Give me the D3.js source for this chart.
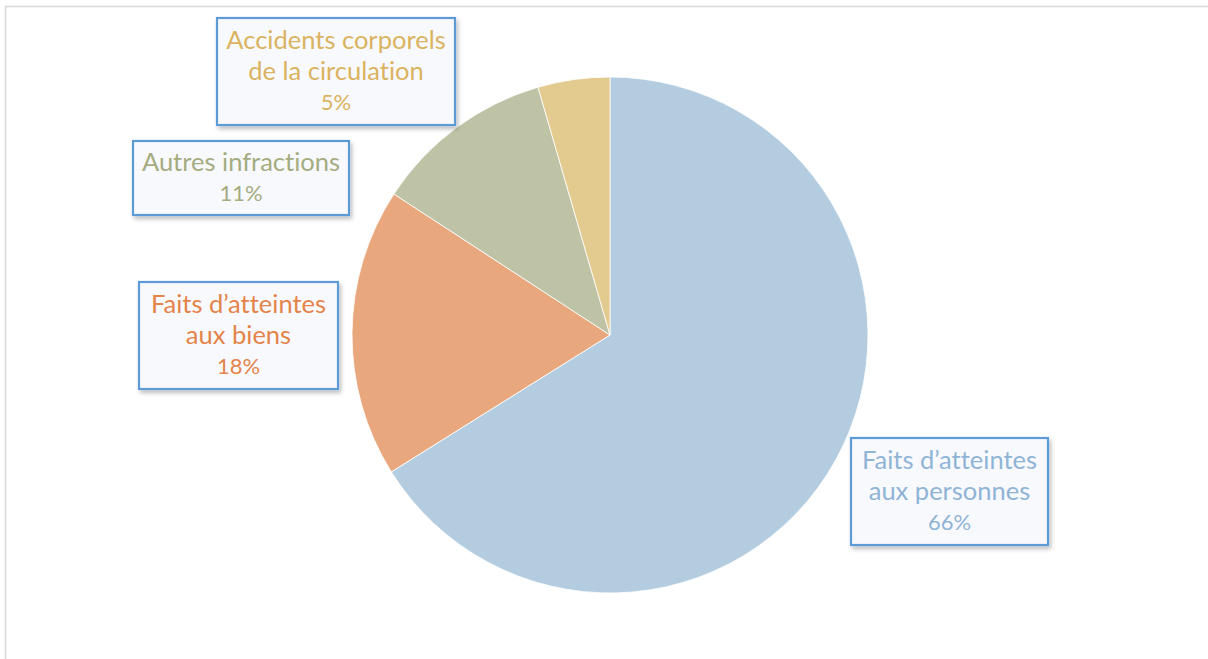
<html>
<head>
<meta charset="utf8">
<script src="https://cdn.jsdelivr.net/npm/d3@7"></script>
<style>
body { margin: 0; background: #fff; }
text { font-variant-ligatures: none; }
</style>
</head>
<body>
<div id="canvas"></div>
<script>
// données du graphique
const categories = ["Faits d’atteintes aux personnes", "Faits d’atteintes aux biens", "Autres infractions", "Accidents corporels de la circulation"];
const values = [66.1, 18.1, 11.3, 4.5];
const labelLines = [
    ["Faits d’atteintes", "aux personnes", "66%"],
    ["Faits d’atteintes", "aux biens", "18%"],
    ["Autres infractions", "11%"],
    ["Accidents corporels", "de la circulation", "5%"]
];
const fills = ["#b4cce0", "#e8a77d", "#bec3a6", "#e3ca8e"];
const textColors = ["#8fb4d6", "#e4844a", "#a4ac80", "#dab35f"];

// boîtes des étiquettes (x, y, largeur, hauteur)
const boxes = [
    [851, 438, 197, 107],
    [139, 282, 199, 107],
    [133, 141, 216, 74],
    [217, 18, 238, 107]
];

const W = 1208, H = 659;
const svg = d3.select("#canvas").append("svg")
    .attr("width", W)
    .attr("height", H);

const defs = svg.append("defs");
const f = defs.append("filter").attr("id", "shadow").attr("x", "-10%").attr("y", "-10%").attr("width", "130%").attr("height", "140%");
f.append("feDropShadow").attr("dx", 2).attr("dy", 3).attr("stdDeviation", 2).attr("flood-color", "#000").attr("flood-opacity", 0.25);

// cadre du graphique
svg.append("rect")
    .attr("x", 5.5).attr("y", 6.5)
    .attr("width", W + 10).attr("height", H + 10)
    .attr("fill", "none")
    .attr("stroke", "#d9d9d9")
    .attr("stroke-width", 1.5);

const cx = 610, cy = 335, r = 258;

const pie = d3.pie().sort(null).value(d => d);
const arc = d3.arc().innerRadius(0).outerRadius(r);

const g = svg.append("g").attr("transform", `translate(${cx},${cy})`);
g.selectAll("path")
    .data(pie(values))
    .join("path")
    .attr("d", arc)
    .attr("fill", (d, i) => fills[i])
    .attr("stroke", "#fff")
    .attr("stroke-width", 0.8);

// étiquettes
const lineH = 31;
boxes.forEach((b, i) => {
    const lab = svg.append("g");
    lab.append("rect")
        .attr("x", b[0]).attr("y", b[1])
        .attr("width", b[2]).attr("height", b[3])
        .attr("fill", "#f8f9fd")
        .attr("stroke", "#5b9bd5")
        .attr("stroke-width", 2.2)
        .attr("filter", "url(#shadow)");
    const lines = labelLines[i];
    const midY = b[1] + b[3] / 2;
    const startY = midY - (lines.length - 1) * lineH / 2;
    lines.forEach((t, j) => {
        lab.append("text")
            .attr("x", b[0] + b[2] / 2)
            .attr("y", startY + j * lineH)
            .attr("dy", "0.35em")
            .attr("text-anchor", "middle")
            .attr("font-family", "Lato, 'Open Sans', sans-serif")
            .attr("font-size", j === lines.length - 1 ? "22px" : "25.5px")
            .attr("fill", textColors[i])
            .text(t);
    });
});
</script>
</body>
</html>
